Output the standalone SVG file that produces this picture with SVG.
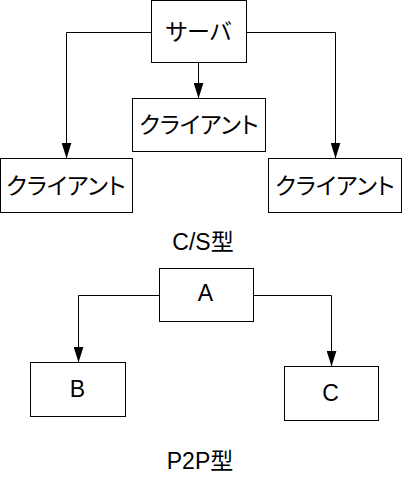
<svg xmlns="http://www.w3.org/2000/svg" width="402" height="479" viewBox="0 0 402 479">
<style>
.box{fill:#fff;stroke:#000;stroke-width:1}
.conn{fill:none;stroke:#000;stroke-width:1}
text{font-family:"Liberation Sans","Noto Sans CJK JP",sans-serif;font-size:23px;fill:#000;text-anchor:middle}
.jp{font-feature-settings:"palt"}
</style>
<defs>
<marker id="arr" markerUnits="userSpaceOnUse" markerWidth="16" markerHeight="10" viewBox="0 0 16 10" refX="16" refY="5" orient="auto">
<path d="M0,0 L16,5 L0,10 z" fill="#000"/>
</marker>
</defs>
<rect width="402" height="479" fill="#fff"/>
<g id="connectors">
<path class="conn" d="M151.5,32.5 H66.5 V158.5" marker-end="url(#arr)"/>
<path class="conn" d="M246.5,32.5 H335.5 V158.5" marker-end="url(#arr)"/>
<path class="conn" d="M198.5,62.5 V98.5" marker-end="url(#arr)"/>
<path class="conn" d="M159.5,295.5 H78.5 V362.5" marker-end="url(#arr)"/>
<path class="conn" d="M253.5,295.5 H331.5 V366.5" marker-end="url(#arr)"/>
</g>
<g id="server">
<rect class="box" x="151.5" y="0.5" width="95" height="62"/>
<text class="jp" x="198.5" y="40">サーバ</text>
</g>
<g id="client-center">
<rect class="box" x="132.5" y="98.5" width="133" height="53"/>
<text class="jp" x="199" y="132.5">クライアント</text>
</g>
<g id="client-left">
<rect class="box" x="0.5" y="158.5" width="132" height="54"/>
<text class="jp" x="66" y="193.5">クライアント</text>
</g>
<g id="client-right">
<rect class="box" x="268.5" y="158.5" width="133" height="54"/>
<text class="jp" x="335" y="193.5">クライアント</text>
</g>
<g id="label-cs">
<text x="203" y="250">C/S型</text>
</g>
<g id="node-a">
<rect class="box" x="159.5" y="268.5" width="94" height="53"/>
<text x="205.5" y="301">A</text>
</g>
<g id="node-b">
<rect class="box" x="30.5" y="362.5" width="95" height="54"/>
<text x="77.5" y="396.5">B</text>
</g>
<g id="node-c">
<rect class="box" x="284.5" y="366.5" width="94" height="54"/>
<text x="330.5" y="401">C</text>
</g>
<g id="label-p2p">
<text x="200" y="469">P2P型</text>
</g>
</svg>
